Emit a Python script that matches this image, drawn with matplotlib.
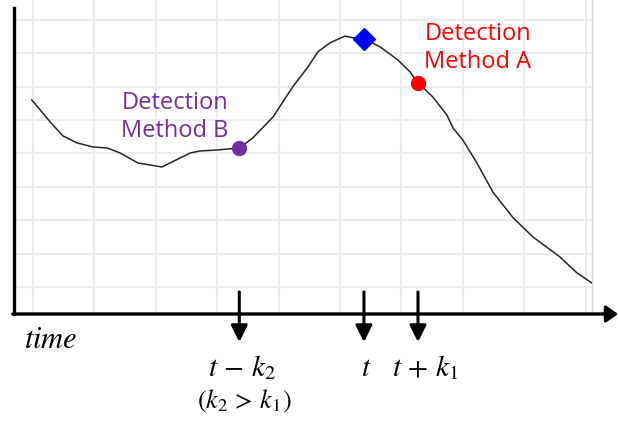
import matplotlib
matplotlib.use("Agg")
import matplotlib.pyplot as plt

# ---- data (time in grid units, value in grid units) ----
time = [-0.02, 0.28, 0.49, 0.72, 0.98, 1.21, 1.42, 1.71, 1.91, 2.10, 2.23, 2.56,
        2.72, 3.00, 3.36, 3.58, 3.91, 4.23, 4.48, 4.64, 4.84, 5.08, 5.21, 5.39,
        5.65, 5.94, 6.14, 6.27, 6.51, 6.74, 6.84, 7.00, 7.23, 7.49, 7.82, 8.14,
        8.58, 8.86, 9.10]
value = [5.60, 4.94, 4.52, 4.31, 4.19, 4.16, 4.01, 3.71, 3.65, 3.59, 3.71, 4.01,
         4.07, 4.10, 4.16, 4.46, 5.09, 5.99, 6.59, 7.04, 7.31, 7.51, 7.46, 7.43,
         7.19, 6.80, 6.44, 6.11, 5.69, 5.15, 4.76, 4.40, 3.71, 2.84, 2.07, 1.50,
         0.90, 0.42, 0.12]

event_B = (3.36, 4.16)   # Detection Method B  (t - k2)
event_peak = (5.39, 7.43)  # t
event_A = (6.27, 6.11)   # Detection Method A  (t + k1)

label_B = "Detection\nMethod B"
label_A = "Detection\nMethod A"
tick_texts = [r"$t\,-\,k_2$", r"$t$", r"$t\,+\,k_1$"]
cond_text = r"$(k_2\,>\,k_1)$"
axis_text = r"$time$"

W, H = 618, 421
plt.rcParams['mathtext.fontset'] = 'stix'

fig = plt.figure(figsize=(W / 100, H / 100), dpi=100)
ax = fig.add_axes([14 / W, (H - 314) / H, 578 / W, 314 / H])
ax.set_xlim(-0.309, 9.104)
ax.set_ylim(-0.81, 8.59)

ax.set_xticks(range(0, 10))
ax.set_yticks(range(0, 9))
ax.grid(True, color='#ececec', lw=1.5)
ax.set_axisbelow(True)
ax.tick_params(length=0, labelbottom=False, labelleft=False)

for s in ['top', 'bottom']:
    ax.spines[s].set_visible(False)
ax.spines['right'].set_color('#d8d8d8')
ax.spines['right'].set_linewidth(1.0)
ax.spines['left'].set_color('black')
ax.spines['left'].set_linewidth(2.4)
ax.spines['left'].set_bounds(-0.81, 8.35)

# x axis with arrow
ax.annotate('', xy=(1.045, 0), xytext=(-0.002, 0), xycoords='axes fraction',
            textcoords='axes fraction', annotation_clip=False,
            arrowprops=dict(arrowstyle='-|>,head_length=7,head_width=5',
                            mutation_scale=1, lw=2.4, color='black',
                            shrinkA=0, shrinkB=0))

ax.plot(time, value, color='#262626', lw=1.1, zorder=3)

ax.plot(*event_B, 'o', color='#7030A0', ms=10, zorder=4)
ax.plot(*event_A, 'o', color='#FF0000', ms=10, zorder=4)
ax.plot(*event_peak, 'D', color='#0000FF', ms=11.5, zorder=4)

# down arrows under the axis
for ex in (event_B[0], event_peak[0], event_A[0]):
    ax.annotate('', xy=(ex, -1.65), xytext=(ex, -0.15), annotation_clip=False,
                arrowprops=dict(arrowstyle='-|>,head_length=10,head_width=5',
                                mutation_scale=1, lw=2.2, color='black',
                                shrinkA=0, shrinkB=0))

def ftext(x, y, s, **kw):
    fig.text(x / W, 1 - y / H, s, **kw)

font_lbl = dict(family=['Open Sans', 'DejaVu Sans'], fontsize=17, ha='center',
                va='baseline', linespacing=1.2)
ftext(175, 137, label_B, color='#7030A0', **font_lbl)
ftext(478, 68, label_A, color='#FF0000', **font_lbl)

ftext(51, 348, axis_text, fontsize=22, ha='center', va='baseline')
ftext(242, 376, tick_texts[0], fontsize=21, ha='center', va='baseline')
ftext(366, 376, tick_texts[1], fontsize=21, ha='center', va='baseline')
ftext(425, 376, tick_texts[2], fontsize=21, ha='center', va='baseline')
ftext(244, 408, cond_text, fontsize=19, ha='center', va='baseline')

fig.savefig('out.png', dpi=100)
